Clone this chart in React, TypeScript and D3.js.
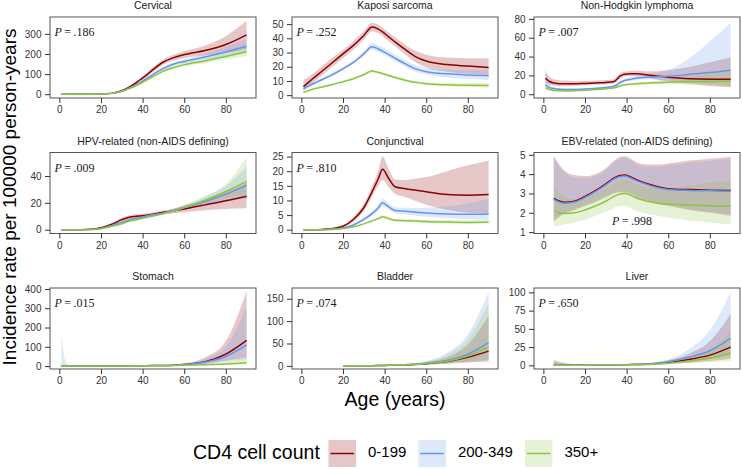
import React, { useEffect, useRef } from "react";
import * as d3 from "d3";

const ages = [1, 3, 5, 10, 15, 20, 25, 30, 34, 37, 39, 42, 45, 50, 55, 60, 70, 80, 90];
const groups = ["0-199", "200-349", "350+"];
const colors = ["#8B0000", "#6495ED", "#8CC63F"];
const xTicks = [0, 20, 40, 60, 80];

const titles = [
  "Cervical",
  "Kaposi sarcoma",
  "Non-Hodgkin lymphoma",
  "HPV-related (non-AIDS defining)",
  "Conjunctival",
  "EBV-related (non-AIDS defining)",
  "Stomach",
  "Bladder",
  "Liver",
];
const pValues = [".186", ".252", ".007", ".009", ".810", ".998", ".015", ".074", ".650"];
const yTicks = [
  [0, 100, 200, 300],
  [0, 10, 20, 30, 40, 50],
  [0, 20, 40, 60, 80],
  [0, 20, 40],
  [0, 5, 10, 15, 20, 25],
  [1, 2, 3, 4, 5],
  [0, 100, 200, 300, 400],
  [0, 50, 100, 150],
  [0, 25, 50, 75, 100],
];
const yLimits = [
  [-19, 384],
  [-2, 55],
  [-4, 82],
  [-2.8, 57.5],
  [-1.3, 26.4],
  [0.93, 5.12],
  [-15, 405],
  [-7, 174],
  [-5, 106],
];

// Cervical
const cervicalFit = [
  [0, 0, 0, 0, 0, 1, 4, 17, 38, 58, 73, 96, 122, 160, 182, 197, 217, 247, 295],
  [0, 0, 0, 0, 0, 1, 4, 15, 32, 48, 59, 78, 98, 128, 150, 163, 185, 210, 238],
  [0, 0, 0, 0, 0, 1, 4, 14, 29, 43, 53, 70, 88, 115, 133, 147, 165, 188, 212],
];
const cervicalLow = [
  [0, 0, 0, 0, 0, 0.5, 3, 14, 33, 51, 65, 86, 110, 147, 167, 180, 192, 205, 225],
  [0, 0, 0, 0, 0, 0.5, 3, 13, 29, 44, 54, 72, 91, 120, 141, 153, 170, 186, 205],
  [0, 0, 0, 0, 0, 0.5, 3, 12, 27, 40, 49, 65, 82, 108, 125, 139, 154, 172, 190],
];
const cervicalHigh = [
  [0, 0, 0, 0, 0, 1.5, 5, 20, 43, 65, 81, 106, 134, 173, 197, 214, 242, 290, 365],
  [0, 0, 0, 0, 0, 1.5, 5, 17, 35, 52, 64, 84, 105, 136, 159, 174, 201, 236, 275],
  [0, 0, 0, 0, 0, 1.5, 5, 16, 31, 46, 57, 75, 94, 122, 141, 156, 177, 206, 240],
];

// Kaposi sarcoma
const kaposiFit = [
  [6, 8.5, 11, 17, 23, 29, 35, 42, 48, 46.5, 44.5, 41, 37.5, 32, 27, 24, 21.5, 20.5, 19.5],
  [4.5, 6, 7.5, 11, 14.5, 18.5, 23, 29, 34, 32.5, 31, 28.5, 26, 22, 18.5, 16.5, 15, 14.2, 13.7],
  [2, 3, 4, 5.7, 7.5, 9.5, 11.5, 14.5, 17, 16, 15.2, 13.8, 12.5, 10.5, 9, 8, 7.3, 7, 6.8],
];
const kaposiLow = [
  [3, 5.5, 8, 14, 20, 26, 32, 39, 45, 43.5, 41.5, 38, 34.5, 28.5, 23, 19.5, 16.5, 15, 14],
  [3.5, 5, 6.5, 10, 13.5, 17.5, 22, 27.5, 32, 30.5, 29, 26.5, 24, 20, 16.5, 14.5, 12.5, 11.5, 10.5],
  [1.5, 2.5, 3.4, 5.1, 6.9, 8.9, 10.9, 13.8, 16, 15, 14.2, 12.8, 11.6, 9.6, 8.1, 7.1, 6.3, 5.8, 5.4],
];
const kaposiHigh = [
  [11, 12.5, 14.5, 20.5, 26.5, 32, 38, 45, 51, 49.5, 47.5, 44, 41, 35.5, 31, 28.5, 26.5, 26, 26],
  [6, 7.5, 9, 12.5, 16, 20, 24.5, 31, 36.5, 35, 33.5, 31, 28.5, 24.5, 21, 19, 18, 17.5, 17.5],
  [2.5, 3.6, 4.7, 6.4, 8.2, 10.2, 12.2, 15.3, 18, 17, 16.2, 14.8, 13.4, 11.4, 9.9, 9, 8.4, 8.3, 8.4],
];

// Non-Hodgkin lymphoma
const nhlFit = [
  [17, 13.5, 12, 11, 11, 11.5, 12, 12.5, 13.5, 19.5, 21.2, 21.8, 21.7, 20.5, 19.2, 18, 16.5, 16, 16],
  [10, 7, 6, 5, 5, 5.5, 6.2, 7.2, 8.5, 12.5, 14.5, 16, 17.2, 18, 18.5, 19, 21, 23, 25.5],
  [7, 5, 4, 3.5, 3.7, 4.2, 4.9, 5.8, 6.8, 8.8, 9.9, 10.7, 11.2, 11.8, 12.3, 12.8, 13.3, 13.6, 13.9],
];
const nhlLow = [
  [12, 10, 9, 8.5, 9, 9.5, 10, 10.5, 11.5, 17, 18.8, 19.3, 19, 17.5, 15.5, 13.5, 11, 9, 7.5],
  [5.5, 5, 4.5, 4, 4.2, 4.6, 5.3, 6.2, 7.3, 11, 12.8, 14.2, 15.2, 15.6, 15.3, 14.8, 13, 11, 9],
  [5, 4, 3.2, 2.9, 3.1, 3.6, 4.3, 5.1, 6, 7.9, 8.9, 9.6, 10, 10.4, 10.5, 10.5, 9.8, 8.7, 7.5],
];
const nhlHigh = [
  [23, 18, 16, 14.5, 14, 14, 14.5, 15, 16, 22.5, 23.8, 24.6, 24.8, 24.5, 24.5, 25.5, 29, 34, 39],
  [30, 12, 8, 6.3, 6, 6.5, 7.2, 8.3, 9.8, 14.2, 16.3, 17.9, 19.3, 21, 23, 26, 38, 56, 76],
  [10, 6.3, 5, 4.2, 4.4, 4.9, 5.6, 6.6, 7.7, 9.8, 11, 11.9, 12.5, 13.3, 14.2, 15.4, 18, 21.5, 25.5],
];

// HPV-related (non-AIDS defining)
const hpvFit = [
  [0, 0, 0, 0, 0.3, 1.5, 4, 7.5, 9.5, 10, 10.3, 10.8, 11.6, 13, 14, 15.5, 18.5, 21.5, 25],
  [0, 0, 0, 0, 0.2, 1, 3, 5.5, 7.5, 8.5, 9.2, 10.2, 11.2, 12.5, 14.5, 16.5, 21, 26.5, 33],
  [0, 0, 0, 0, 0.2, 0.8, 2.5, 4.5, 6.5, 7.5, 8.2, 9.2, 10.2, 12, 14, 16.5, 22, 28.5, 36],
];
const hpvLow = [
  [0, 0, 0, 0, 0.1, 1, 3, 6, 8, 8.5, 8.8, 9.4, 10.2, 11.5, 12.3, 13, 14.5, 15.5, 16],
  [0, 0, 0, 0, 0.1, 0.7, 2.5, 4.8, 6.7, 7.7, 8.3, 9.2, 10.2, 11.5, 13.3, 15, 18, 21.5, 23],
  [0, 0, 0, 0, 0.1, 0.6, 2.1, 4, 5.9, 6.9, 7.5, 8.5, 9.5, 11.2, 13, 15, 19.5, 24, 26],
];
const hpvHigh = [
  [0, 0, 0, 0, 0.5, 2, 5, 9, 11, 11.5, 11.8, 12.3, 13.1, 14.5, 15.8, 18, 22.5, 28.5, 35],
  [0, 0, 0, 0, 0.3, 1.3, 3.5, 6.2, 8.3, 9.3, 10.1, 11.2, 12.2, 13.6, 15.8, 18.3, 24.5, 32.5, 47],
  [0, 0, 0, 0, 0.3, 1, 2.9, 5, 7.1, 8.1, 8.9, 9.9, 10.9, 12.8, 15, 18.3, 25, 34, 54],
];

// Conjunctival
const conjFit = [
  [0, 0, 0, 0.1, 0.4, 1.2, 3.5, 7.5, 13, 17.5, 20.7, 17.5, 14.7, 14, 13.5, 13, 12, 11.8, 12],
  [0, 0, 0, 0, 0.2, 0.6, 1.6, 3.5, 5.5, 7.5, 9.2, 7.8, 6.6, 6.3, 6, 5.7, 5.4, 5.3, 5.4],
  [0, 0, 0, 0, 0.1, 0.4, 1, 2, 3, 3.8, 4.4, 3.8, 3.2, 3.1, 3, 2.8, 2.6, 2.5, 2.6],
];
const conjLow = [
  [0, 0, 0, 0, 0.2, 0.8, 2.7, 6.3, 11.3, 15, 17, 14.5, 12.3, 11.2, 9.8, 8.5, 6.8, 5.8, 5.5],
  [0, 0, 0, 0, 0.1, 0.4, 1.2, 2.9, 4.8, 6.6, 8, 6.8, 5.7, 5.2, 4.8, 4.4, 3.9, 3.6, 3.4],
  [0, 0, 0, 0, 0, 0.3, 0.8, 1.7, 2.6, 3.4, 3.9, 3.3, 2.8, 2.7, 2.5, 2.3, 2.1, 2, 2],
];
const conjHigh = [
  [0, 0, 0, 0.2, 0.6, 1.6, 4.3, 8.8, 14.8, 20.3, 25, 20.8, 17.2, 17, 17.5, 18, 20, 22, 23.7],
  [0, 0, 0, 0, 0.3, 0.8, 2, 4.1, 6.3, 8.5, 10.6, 9, 7.7, 7.5, 7.4, 7.5, 8, 9, 10.5],
  [0, 0, 0, 0, 0.2, 0.5, 1.2, 2.3, 3.4, 4.3, 4.9, 4.3, 3.6, 3.6, 3.5, 3.4, 3.3, 3.3, 3.5],
];

// EBV-related (non-AIDS defining), from age 5
const ebvFit = [
  [null, null, 2.75, 2.55, 2.6, 2.85, 3.15, 3.5, 3.8, 3.93, 3.95, 3.85, 3.7, 3.5, 3.35, 3.25, 3.2, 3.17, 3.15],
  [null, null, 2.7, 2.5, 2.56, 2.8, 3.1, 3.45, 3.75, 3.88, 3.9, 3.8, 3.65, 3.46, 3.3, 3.21, 3.16, 3.14, 3.12],
  [null, null, 2.1, 1.97, 2.0, 2.15, 2.35, 2.6, 2.85, 2.97, 3.0, 2.9, 2.75, 2.6, 2.5, 2.45, 2.4, 2.37, 2.35],
];
const ebvLow = [
  [null, null, 1.55, 1.95, 2.15, 2.35, 2.55, 2.8, 3.0, 3.05, 3.05, 2.95, 2.8, 2.6, 2.45, 2.35, 2.15, 2.0, 1.85],
  [null, null, 1.6, 2.0, 2.2, 2.4, 2.6, 2.85, 3.05, 3.1, 3.1, 3.0, 2.85, 2.65, 2.5, 2.4, 2.2, 2.05, 1.9],
  [null, null, 1.3, 1.4, 1.5, 1.65, 1.85, 2.05, 2.25, 2.35, 2.35, 2.25, 2.1, 1.95, 1.85, 1.75, 1.6, 1.5, 1.4],
];
const ebvHigh = [
  [null, null, 4.95, 4.2, 3.95, 3.9, 4.0, 4.3, 4.7, 4.9, 4.92, 4.8, 4.6, 4.5, 4.5, 4.55, 4.7, 4.8, 4.9],
  [null, null, 4.85, 4.1, 3.85, 3.8, 3.9, 4.2, 4.6, 4.8, 4.85, 4.7, 4.5, 4.4, 4.4, 4.45, 4.6, 4.7, 4.8],
  [null, null, 3.35, 2.85, 2.7, 2.8, 3.0, 3.25, 3.55, 3.65, 3.7, 3.6, 3.45, 3.35, 3.3, 3.3, 3.4, 3.55, 3.7],
];

// Stomach
const stomachFit = [
  [0.5, 0.5, 0.5, 0.5, 0.5, 0.6, 0.8, 1, 1.3, 1.6, 1.8, 2.2, 2.7, 3.5, 5, 8, 23, 62, 133],
  [1, 0.7, 0.5, 0.4, 0.4, 0.5, 0.7, 0.9, 1.2, 1.5, 1.7, 2.1, 2.6, 3.4, 5, 8, 21, 50, 110],
  [0.3, 0.3, 0.3, 0.3, 0.3, 0.4, 0.5, 0.7, 0.9, 1.1, 1.3, 1.6, 1.9, 2.4, 3.2, 4, 7, 11, 17],
];
const stomachLow = [
  [0.1, 0.1, 0.1, 0.2, 0.2, 0.3, 0.4, 0.6, 0.8, 1, 1.2, 1.5, 1.9, 2.5, 3.5, 5, 12, 28, 45],
  [0.2, 0.1, 0.1, 0.1, 0.1, 0.2, 0.3, 0.5, 0.7, 0.9, 1.1, 1.4, 1.8, 2.4, 3.5, 5, 11, 22, 35],
  [0.1, 0.1, 0.1, 0.1, 0.1, 0.2, 0.3, 0.4, 0.6, 0.7, 0.9, 1.1, 1.3, 1.7, 2.3, 2.6, 4, 5.5, 7],
];
const stomachHigh = [
  [3, 2, 1.5, 1.2, 1.2, 1.3, 1.5, 1.8, 2.1, 2.4, 2.7, 3.1, 3.6, 4.7, 7, 14, 45, 130, 390],
  [170, 20, 6, 2, 1.4, 1.4, 1.6, 1.8, 2.1, 2.4, 2.6, 3, 3.6, 4.7, 7, 13, 38, 100, 310],
  [1, 0.8, 0.7, 0.6, 0.6, 0.7, 0.8, 1, 1.3, 1.5, 1.8, 2.1, 2.5, 3.2, 4.3, 6, 12, 22, 45],
];

// Bladder, from age 20
const bladderFit = [
  [null, null, null, null, null, 0.2, 0.2, 0.3, 0.5, 0.7, 0.9, 1.2, 1.6, 2.3, 3.3, 4.8, 9.5, 19, 33],
  [null, null, null, null, null, 0.2, 0.2, 0.3, 0.5, 0.7, 0.9, 1.2, 1.7, 2.6, 4, 6, 12, 26, 52],
  [null, null, null, null, null, 0.2, 0.2, 0.3, 0.5, 0.7, 0.9, 1.2, 1.7, 2.5, 3.7, 5.5, 10.5, 22, 42],
];
const bladderLow = [
  [null, null, null, null, null, 0.05, 0.08, 0.15, 0.3, 0.4, 0.5, 0.7, 1, 1.5, 2.1, 2.8, 4.8, 7.5, 9.5],
  [null, null, null, null, null, 0.05, 0.08, 0.15, 0.3, 0.4, 0.5, 0.7, 1, 1.6, 2.5, 3.3, 5.5, 9, 13],
  [null, null, null, null, null, 0.05, 0.08, 0.15, 0.3, 0.4, 0.5, 0.7, 1, 1.6, 2.4, 3.3, 5.5, 9, 13],
];
const bladderHigh = [
  [null, null, null, null, null, 0.8, 0.6, 0.6, 0.8, 1.1, 1.4, 1.8, 2.3, 3.3, 5, 8, 19, 48, 112],
  [null, null, null, null, null, 0.9, 0.7, 0.7, 0.9, 1.2, 1.5, 2, 2.7, 4, 6.5, 11, 29, 70, 165],
  [null, null, null, null, null, 0.8, 0.6, 0.6, 0.8, 1.1, 1.4, 1.9, 2.5, 3.7, 5.8, 10, 25, 60, 140],
];

// Liver, from age 5
const liverFit = [
  [null, null, 0.5, 0.4, 0.4, 0.4, 0.4, 0.5, 0.6, 0.7, 0.8, 1, 1.2, 1.6, 2.4, 3.8, 8, 14, 25],
  [null, null, 0.5, 0.4, 0.4, 0.4, 0.5, 0.6, 0.7, 0.8, 0.9, 1.1, 1.4, 1.9, 3, 5, 11, 20, 37],
  [null, null, 0.4, 0.3, 0.3, 0.3, 0.35, 0.4, 0.5, 0.55, 0.6, 0.75, 0.9, 1.2, 1.9, 3, 6, 10, 17],
];
const liverLow = [
  [null, null, 0.1, 0.1, 0.1, 0.1, 0.15, 0.2, 0.25, 0.3, 0.35, 0.45, 0.6, 0.9, 1.4, 2.2, 3.5, 6, 9],
  [null, null, 0.1, 0.1, 0.1, 0.15, 0.2, 0.25, 0.3, 0.35, 0.4, 0.5, 0.7, 1, 1.6, 2.5, 5, 8.5, 13],
  [null, null, 0.1, 0.1, 0.1, 0.1, 0.15, 0.2, 0.25, 0.3, 0.3, 0.4, 0.5, 0.7, 1.1, 1.5, 3, 4.5, 6],
];
const liverHigh = [
  [null, null, 6, 3, 1.5, 1.2, 1.1, 1.1, 1.2, 1.3, 1.5, 1.8, 2.2, 3, 4.5, 7, 16, 33, 70],
  [null, null, 8, 3.5, 1.8, 1.4, 1.3, 1.3, 1.4, 1.5, 1.6, 1.8, 2.2, 2.9, 4.5, 8, 22, 48, 100],
  [null, null, 5, 2.5, 1.2, 1, 0.9, 0.9, 1, 1.1, 1.2, 1.4, 1.7, 2.2, 3.4, 5.5, 11, 22, 45],
];

const panels = [
  { fit: cervicalFit, low: cervicalLow, high: cervicalHigh },
  { fit: kaposiFit, low: kaposiLow, high: kaposiHigh },
  { fit: nhlFit, low: nhlLow, high: nhlHigh },
  { fit: hpvFit, low: hpvLow, high: hpvHigh },
  { fit: conjFit, low: conjLow, high: conjHigh },
  { fit: ebvFit, low: ebvLow, high: ebvHigh },
  { fit: stomachFit, low: stomachLow, high: stomachHigh },
  { fit: bladderFit, low: bladderLow, high: bladderHigh },
  { fit: liverFit, low: liverLow, high: liverHigh },
].map((p, i) => ({ ...p, title: titles[i], p: pValues[i], ticks: yTicks[i], limits: yLimits[i] }));

const SANS = "'Liberation Sans', Arial, sans-serif";
const SERIF = "'Liberation Serif', 'Times New Roman', serif";

export default function App() {
  const svgRef = useRef<SVGSVGElement>(null);

  useEffect(() => {
    const width = 742;
    const height = 469;
    const colLeft = [50, 292, 534];
    const rowTop = [17, 152.5, 288];
    const pw = 206;
    const ph = 81;

    const svg = d3.select(svgRef.current).attr("width", width).attr("height", height);
    svg.selectAll("*").remove();
    svg.append("rect").attr("width", width).attr("height", height).attr("fill", "#fff");

    panels.forEach((p, i) => {
      const left = colLeft[i % 3];
      const top = rowTop[Math.floor(i / 3)];
      const x = d3.scaleLinear().domain([-4.5, 94.5]).range([left, left + pw]);
      const y = d3.scaleLinear().domain(p.limits).range([top + ph, top]);

      const g = svg.append("g");
      const clipId = `panel-clip-${i}`;
      g.append("clipPath")
        .attr("id", clipId)
        .append("rect")
        .attr("x", left)
        .attr("y", top)
        .attr("width", pw)
        .attr("height", ph);
      const plot = g.append("g").attr("clip-path", `url(#${clipId})`);

      const series = [0, 1, 2].map((k) =>
        ages.map((a, j) => ({ a, fit: p.fit[k][j], lo: p.low[k][j], hi: p.high[k][j] }))
      );

      const area = d3
        .area<any>()
        .defined((d) => d.lo != null)
        .x((d) => x(d.a))
        .y0((d) => y(d.lo))
        .y1((d) => y(d.hi))
        .curve(d3.curveMonotoneX);
      const line = d3
        .line<any>()
        .defined((d) => d.fit != null)
        .x((d) => x(d.a))
        .y((d) => y(d.fit))
        .curve(d3.curveMonotoneX);

      series.forEach((s, k) => {
        plot.append("path").datum(s).attr("d", area).attr("fill", colors[k]).attr("fill-opacity", 0.22);
      });
      series.forEach((s, k) => {
        plot
          .append("path")
          .datum(s)
          .attr("d", line)
          .attr("fill", "none")
          .attr("stroke", colors[k])
          .attr("stroke-width", 1.5);
      });

      g.append("rect")
        .attr("x", left)
        .attr("y", top)
        .attr("width", pw)
        .attr("height", ph)
        .attr("fill", "none")
        .attr("stroke", "#555")
        .attr("stroke-width", 1);

      const xAxis = d3.axisBottom(x).tickValues(xTicks).tickSize(5).tickPadding(3);
      const yAxis = d3
        .axisLeft(y)
        .tickValues(p.ticks)
        .tickSize(5)
        .tickPadding(3.5)
        .tickFormat(d3.format("~g"));

      const xg = g.append("g").attr("transform", `translate(0,${top + ph})`).call(xAxis);
      const yg = g.append("g").attr("transform", `translate(${left},0)`).call(yAxis);
      [xg, yg].forEach((ax) => {
        ax.select(".domain").remove();
        ax.attr("font-family", SANS).attr("font-size", 10);
        ax.selectAll("line").attr("stroke", "#333");
        ax.selectAll("text").attr("fill", "#333");
      });

      g.append("text")
        .attr("x", left + pw / 2)
        .attr("y", top - 8)
        .attr("text-anchor", "middle")
        .attr("font-family", SANS)
        .attr("font-size", 10.5)
        .attr("fill", "#1a1a1a")
        .text(p.title);

      const atBottom = i === 5;
      const pt = g
        .append("text")
        .attr("x", atBottom ? x(33) : left + 4.5)
        .attr("y", atBottom ? top + ph - 8.5 : top + 19)
        .attr("font-family", SERIF)
        .attr("font-size", 12)
        .attr("fill", "#1a1a1a");
      pt.append("tspan").attr("font-style", "italic").text("P");
      pt.append("tspan").text("\u2009=\u2009" + p.p);
    });

    svg
      .append("text")
      .attr("transform", "translate(16,197) rotate(-90)")
      .attr("text-anchor", "middle")
      .attr("font-family", SANS)
      .attr("font-size", 19)
      .attr("fill", "#000")
      .text("Incidence rate per 100000 person-years");

    svg
      .append("text")
      .attr("x", 395)
      .attr("y", 406)
      .attr("text-anchor", "middle")
      .attr("font-family", SANS)
      .attr("font-size", 19.5)
      .attr("fill", "#000")
      .text("Age (years)");

    // legend
    const legend = svg.append("g");
    legend
      .append("text")
      .attr("x", 193)
      .attr("y", 458.5)
      .attr("font-family", SANS)
      .attr("font-size", 19.5)
      .attr("fill", "#000")
      .text("CD4 cell count");

    let cursor = 328.5;
    groups.forEach((name, k) => {
      legend
        .append("rect")
        .attr("x", cursor)
        .attr("y", 440)
        .attr("width", 27.5)
        .attr("height", 27)
        .attr("fill", colors[k])
        .attr("fill-opacity", 0.22);
      legend
        .append("line")
        .attr("x1", cursor + 2)
        .attr("x2", cursor + 25.5)
        .attr("y1", 453.5)
        .attr("y2", 453.5)
        .attr("stroke", colors[k])
        .attr("stroke-width", 1.5);
      const label = legend
        .append("text")
        .attr("x", cursor + 27.5 + 12)
        .attr("y", 457)
        .attr("font-family", SANS)
        .attr("font-size", 15)
        .attr("fill", "#000")
        .text(name);
      const w = (label.node() as SVGTextElement).getComputedTextLength();
      cursor = cursor + 27.5 + 12 + w + 12;
    });
  }, []);

  return (
    <div style={{ position: "absolute", left: 0, top: 0 }}>
      <svg ref={svgRef} style={{ display: "block" }}></svg>
    </div>
  );
}
